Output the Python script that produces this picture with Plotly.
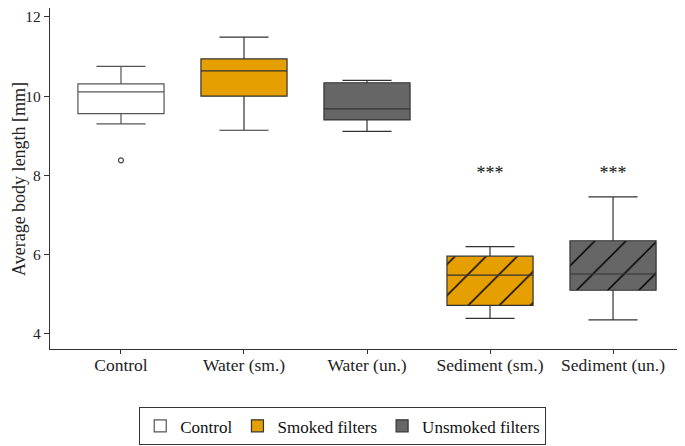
import plotly.graph_objects as go

categories = ["Control", "Water (sm.)", "Water (un.)", "Sediment (sm.)", "Sediment (un.)"]
group_of = {"Control": "Control", "Water (sm.)": "Smoked filters", "Water (un.)": "Unsmoked filters",
            "Sediment (sm.)": "Smoked filters", "Sediment (un.)": "Unsmoked filters"}
lower_whisker = [9.30, 9.14, 9.11, 4.39, 4.35]
q1 = [9.56, 10.00, 9.40, 4.72, 5.10]
median = [10.11, 10.64, 9.68, 5.48, 5.51]
q3 = [10.31, 10.94, 10.34, 5.96, 6.35]
upper_whisker = [10.755, 11.49, 10.40, 6.20, 7.46]
hatched = [False, False, False, True, True]
outlier_cat = ["Control"]
outlier_val = [8.38]
sig_cat = ["Sediment (sm.)", "Sediment (un.)"]
sig_y = [8.02, 8.02]
sig_text = ["***", "***"]
y_title = "Average body length [mm]"

colors = {"Control": "#FFFFFF", "Smoked filters": "#E69F00", "Unsmoked filters": "#666666"}
FONT = "Liberation Serif, Times New Roman, serif"

fig = go.Figure()

# hatch layers (bars are drawn beneath the transparent boxes)
for i, c in enumerate(categories):
    if hatched[i]:
        col = colors[group_of[c]]
        fig.add_trace(go.Bar(
            x=[c], y=[q3[i] - q1[i]], base=[q1[i]], width=0.7, showlegend=False, hoverinfo="skip",
            marker=dict(color=col, line=dict(width=0),
                        pattern=dict(shape="/", fillmode="overlay", fgcolor="#000000", fgopacity=1,
                                     size=22, solidity=0.07)),
        ))

shown = set()
for i, c in enumerate(categories):
    g = group_of[c]
    fill = "rgba(0,0,0,0)" if hatched[i] else colors[g]
    lc = "#555555" if g == "Control" else "#333333"
    fig.add_trace(go.Box(
        x=[c], q1=[q1[i]], median=[median[i]], q3=[q3[i]],
        lowerfence=[lower_whisker[i]], upperfence=[upper_whisker[i]],
        name=g, legendgroup=g, showlegend=g not in shown,
        fillcolor=fill, line=dict(color=lc, width=1.2),
        width=0.7, whiskerwidth=0.57, boxpoints=False,
    ))
    shown.add(g)

fig.add_trace(go.Scatter(
    x=outlier_cat, y=outlier_val, mode="markers", showlegend=False,
    marker=dict(symbol="circle-open", size=5, color="#444444", line=dict(width=1.2)),
))

fig.add_trace(go.Scatter(
    x=sig_cat, y=sig_y, mode="text", text=sig_text, showlegend=False,
    textfont=dict(family=FONT, size=18, color="#111111"),
))

# y-axis title as a rotated annotation so it can sit close to the page edge
fig.add_annotation(
    text=y_title, textangle=-90, xref="paper", yref="paper", x=0, y=0.5,
    xanchor="center", yanchor="middle", xshift=-31.5, yshift=-1, showarrow=False,
    font=dict(family=FONT, size=18, color="#222222"),
)

# the page body adds an 8 px offset, so the figure is 8 px smaller than the window
fig.update_layout(
    width=677, height=438,
    margin=dict(l=42, r=0, t=0, b=97),
    paper_bgcolor="white", plot_bgcolor="white",
    font=dict(family=FONT, size=15, color="#222222"),
    boxmode="overlay", barmode="overlay",
    legend=dict(orientation="h", x=0.461, xanchor="center", y=-0.171, yanchor="top",
                bordercolor="#333333", borderwidth=1, font=dict(family=FONT, size=17, color="#111111"),
                traceorder="normal"),
    xaxis=dict(type="category", categoryorder="array", categoryarray=categories,
               range=[-0.577, 4.585], showline=True, linecolor="#333333", linewidth=1.2,
               ticks="outside", ticklen=4, tickcolor="#333333", showgrid=False, zeroline=False,
               automargin=False, ticklabelstandoff=-4,
               tickfont=dict(family=FONT, size=17.5, color="#222222")),
    yaxis=dict(range=[3.616, 12.227], tickvals=[4, 6, 8, 10, 12], showline=True,
               linecolor="#333333", linewidth=1.2, ticks="outside", ticklen=5, tickcolor="#333333",
               showgrid=False, zeroline=False, automargin=False, ticklabeloverflow="allow",
               ticklabelstandoff=0,
               tickfont=dict(family=FONT, size=15.5, color="#222222")),
)

fig.write_html("out.html")
